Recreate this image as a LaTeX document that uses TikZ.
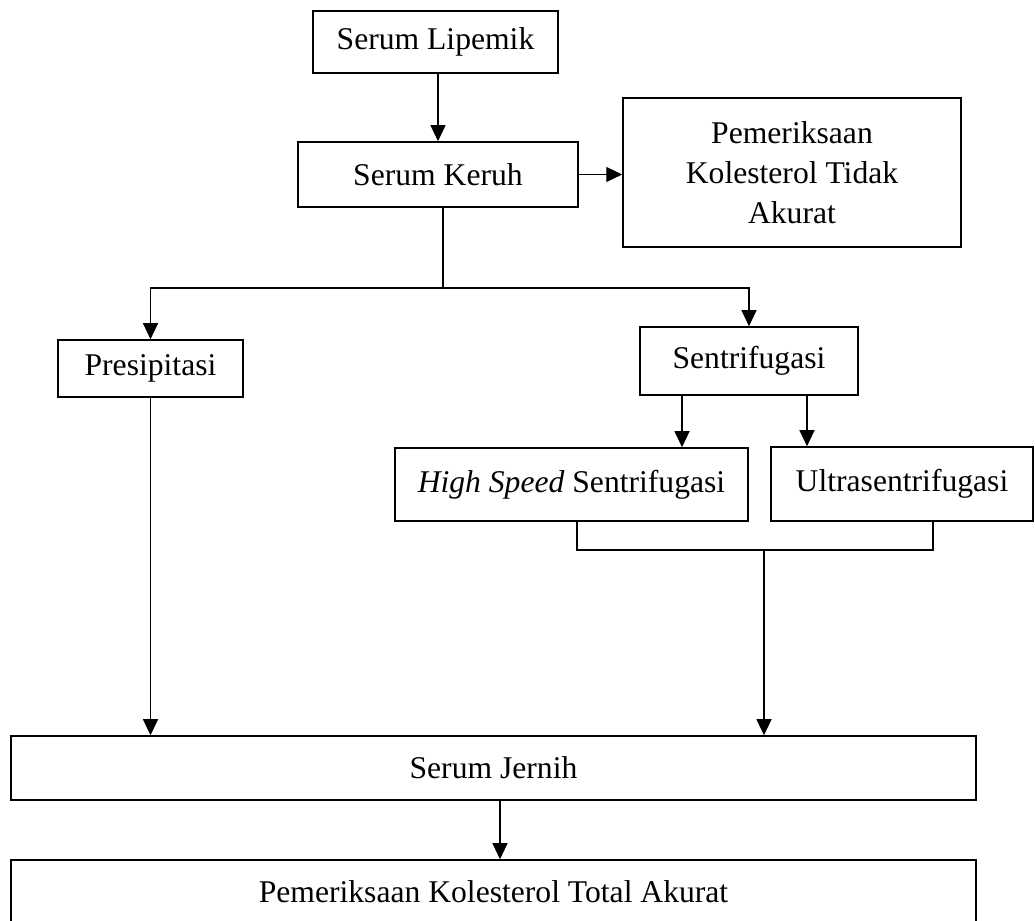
\documentclass[tikz,border=0pt]{standalone}
\usepackage{fontspec}
\setmainfont{Liberation Serif}
\usetikzlibrary{positioning, arrows.meta, calc}

\tikzset{
  box/.style={draw, line width=0.9pt, inner sep=0pt, align=center,
    font=\fontsize{18}{22.8}\selectfont},
  arr/.style={-{Triangle[length=3.2mm,width=3mm]}, line width=0.6pt},
  link/.style={line width=0.6pt}
}

\begin{document}
\begin{tikzpicture}[x=0.02cm, y=-0.02cm]
  \useasboundingbox (0,0) rectangle (1035,920);
  \node[box, minimum width=4.9cm, minimum height=1.24cm] (lipemik) at (435.5,42) {Serum Lipemik};
  \node[box, minimum width=5.6cm, minimum height=1.3cm] (keruh) at (438,174.5) {Serum Keruh};
  \node[box, minimum width=6.76cm, minimum height=2.98cm] (tidak) at (792,172.5) {Pemeriksaan\\Kolesterol Tidak\\Akurat};
  \node[box, minimum width=3.7cm, minimum height=1.14cm] (presip) at (150.5,368.5) {Presipitasi};
  \node[box, minimum width=4.36cm, minimum height=1.36cm] (sentri) at (749,361) {Sentrifugasi};
  \node[box, minimum width=7.06cm, minimum height=1.46cm] (hs) at (571.5,484.5) {\textit{High Speed} Sentrifugasi};
  \node[box, minimum width=5.24cm, minimum height=1.48cm] (ultra) at (902,484) {Ultrasentrifugasi};
  \node[box, minimum width=19.3cm, minimum height=1.28cm] (jernih) at (493.5,768) {Serum Jernih};
  \node[box, minimum width=19.3cm, minimum height=1.28cm] (total) at (493.5,892) {Pemeriksaan Kolesterol Total Akurat};

  \coordinate (split) at (443,288);
  \coordinate (join) at (764,550);

  \draw[arr] (keruh.north |- lipemik.south) -- (keruh.north);
  \draw[arr] (keruh.east) -- (keruh.east -| tidak.west);
  \draw[link] (keruh.south -| split) -- (split);
  \draw[arr] (split) -| (presip.north);
  \draw[arr] (split) -| (sentri.north);
  \draw[arr] ([xshift=-1.34cm]sentri.south) -- ([xshift=-1.34cm]sentri.south |- hs.north);
  \draw[arr] ([xshift=1.16cm]sentri.south) -- ([xshift=1.16cm]sentri.south |- ultra.north);
  \draw[link] ([xshift=0.11cm]hs.south) |- ([xshift=0.62cm]ultra.south |- join) -- ([xshift=0.62cm]ultra.south);
  \draw[arr] (join) -- (join |- jernih.north);
  \draw[arr] (presip.south) -- (presip.south |- jernih.north);
  \draw[arr] ([xshift=0.13cm]jernih.south) -- ([xshift=0.13cm]total.north);
\end{tikzpicture}
\end{document}
